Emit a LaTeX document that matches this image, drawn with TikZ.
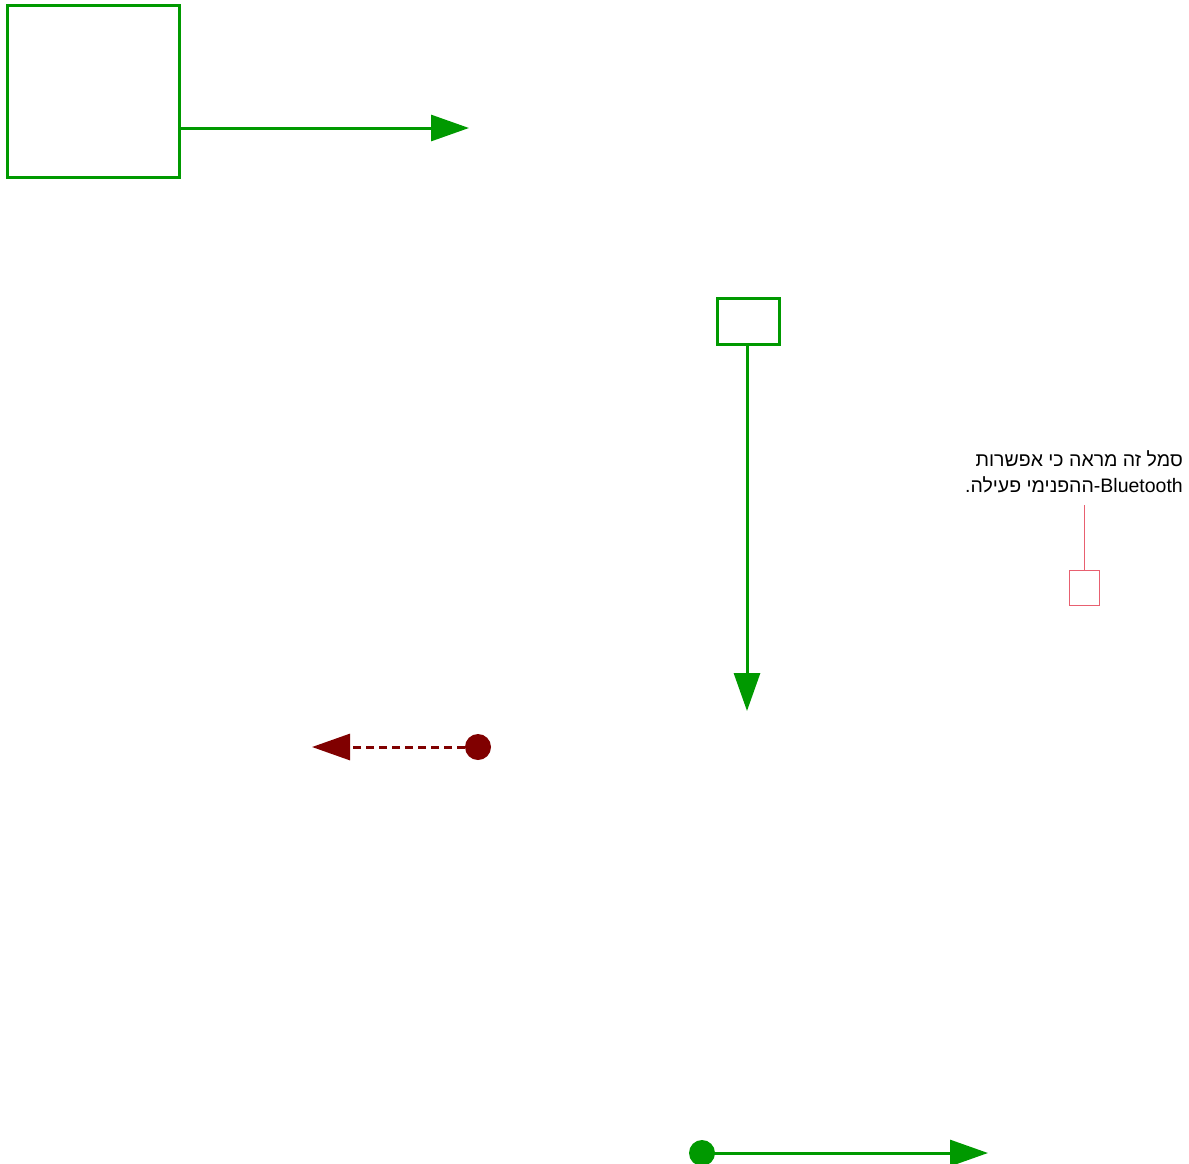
\documentclass[tikz,border=0pt]{standalone}
\usepackage{fontspec}
\setmainfont{Liberation Sans}
\newfontfamily\hebfont[Script=Hebrew]{Liberation Sans}
\TeXXeTstate=1
\usetikzlibrary{arrows.meta}
\definecolor{lgreen}{RGB}{0,153,0}
\definecolor{maroon}{RGB}{128,0,0}
\definecolor{pinkred}{RGB}{232,96,112}
\tikzset{
  gbox/.style={draw=lgreen, line width=3pt, inner sep=0pt},
  garrow/.style={draw=lgreen, line width=3pt, -{Triangle[length=38pt,width=26pt,fill=lgreen]}},
  marrow/.style={draw=maroon, line width=3pt, dash pattern=on 8pt off 5pt, -{Triangle[length=38pt,width=26pt,fill=maroon]}},
  gdot/.style={circle, fill=lgreen, inner sep=0pt, minimum size=26pt},
  mdot/.style={circle, fill=maroon, inner sep=0pt, minimum size=26pt},
  pline/.style={draw=pinkred, line width=1pt},
  notetext/.style={font=\hebfont\fontsize{19.5pt}{26pt}\selectfont, align=right, inner sep=0pt, text=black}
}
\begin{document}
\begin{tikzpicture}[x=1pt,y=-1pt]
\useasboundingbox (0,0) rectangle (1189,1163);
% big square and arrow
\node[gbox, minimum width=172pt, minimum height=172pt] (bigbox) at (93,91) {};
\coordinate (t1) at (469,128);
\draw[garrow] (bigbox.east |- t1) -- (t1);
% small box and down arrow
\node[gbox, minimum width=62pt, minimum height=46pt] (smallbox) at (748,321) {};
\coordinate (t2) at (747,711);
\draw[garrow] (smallbox.south -| t2) -- (t2);
% note
\node[notetext, anchor=north east] (note) at (1183,450) {\beginR סמל זה מראה כי אפשרות\endR\\ \beginR ההפנימי פעילה.\endR-Bluetooth\hspace{4pt}};
\node[draw=pinkred, line width=1pt, minimum width=30pt, minimum height=35pt, inner sep=0pt] (pbox) at (1084,587.5) {};
\coordinate (pstart) at (1084,505);
\draw[pline] (pstart) -- (pbox.north);
% maroon dashed arrow
\node[mdot] (dot1) at (478,747) {};
\coordinate (t3) at (312,747);
\draw[marrow] (dot1.center) -- (t3);
% bottom green arrow
\node[gdot] (dot2) at (702,1153) {};
\coordinate (t4) at (988,1153);
\draw[garrow] (dot2.center) -- (t4);
\end{tikzpicture}
\end{document}
